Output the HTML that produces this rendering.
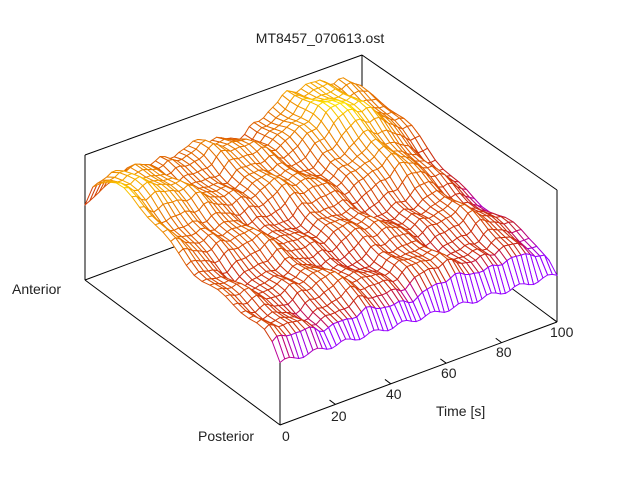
<!DOCTYPE html>
<html><head><meta charset="utf-8"><style>
html,body{margin:0;padding:0;background:#fff;}
svg{display:block;font-family:"Liberation Sans",sans-serif;}
</style></head><body>
<svg id="s" width="640" height="480" viewBox="0 0 640 480" xmlns="http://www.w3.org/2000/svg">
<rect width="640" height="480" fill="#fff"/>
<g stroke="#000" stroke-width="1" fill="none">
<line x1="85" y1="155" x2="362" y2="55"/>
<line x1="362" y1="55" x2="557" y2="190"/>
<line x1="85" y1="155" x2="85" y2="280"/>
<line x1="362" y1="55" x2="362" y2="177"/>
<line x1="557" y1="190" x2="557" y2="322"/>
<line x1="85" y1="280" x2="362" y2="177"/>
<line x1="362" y1="177" x2="557" y2="322"/>
<line x1="85" y1="280" x2="280" y2="425"/>
<line x1="280" y1="425" x2="557" y2="322"/>
<line x1="280" y1="425" x2="280" y2="300"/>
</g>
<g id="ticks" stroke="#000" stroke-width="1"></g>
<g id="mesh" stroke-width="1" stroke-linejoin="round"></g>
<g font-size="14" fill="#222">
<text x="320" y="43" text-anchor="middle">MT8457_070613.ost</text>
<text x="12" y="294">Anterior</text>
<text x="198" y="441">Posterior</text>
<text x="282" y="441">0</text>
<text x="331" y="421">20</text>
<text x="386" y="399">40</text>
<text x="441" y="378">60</text>
<text x="496" y="357">80</text>
<text x="550" y="337">100</text>
<text x="436" y="416">Time [s]</text>
</g>
</svg>
<script>
(function(){
var NS="http://www.w3.org/2000/svg";
function P(t,p,z){return [280+277*t-195*p, 425-103*t-145*p-125*z];}
var tk=document.getElementById('ticks');
for(var i=1;i<=5;i++){var t=i/5;var a=P(t,0,0),b=P(t,0.03,0);
 var l=document.createElementNS(NS,'line');l.setAttribute('x1',a[0]);l.setAttribute('y1',a[1]);l.setAttribute('x2',b[0]);l.setAttribute('y2',b[1]);tk.appendChild(l);}
var NT=60,NP=26;
function Z(t,p){
 var A=0.13+0.2*Math.exp(-Math.pow(t/0.15,2))+0.2*Math.exp(-Math.pow((t-0.82)/0.15,2));
 var ridge=A*Math.exp(-Math.pow((p-0.85)/0.32,2));
 var zi=0.64+ridge+0.035*Math.sin(t*22+p*5)+0.025*Math.sin(p*25+t*9)+0.02*Math.sin(t*57+p*11)+0.012*Math.sin(t*97);
 if(t>0.85) zi-=(t-0.85)*0.6;
 var base=0.5-0.12*t+0.02*Math.sin(t*60);
 var front=1-Math.exp(-p/0.035);
 var z=base+(zi-base)*front;
 if(t<0.25){var back=1-Math.exp(-(1-p)/0.03);var bb=0.6;z=bb+(z-bb)*(back+(1-back)*(t/0.25));}
 if(t>0.97){var r=1-Math.exp(-(1-t)/0.01);z=base+(z-base)*(0.6+0.4*r);}
 return z;}
function col(z){
 var v=Math.min(1,Math.max(0,(z-0.5)/0.5));
 var stops=[[0,[150,0,255]],[0.08,[190,0,140]],[0.17,[200,40,20]],[0.5,[225,100,0]],[0.8,[245,165,0]],[1,[255,235,0]]];
 for(var i=1;i<stops.length;i++){if(v<=stops[i][0]){var a=stops[i-1],b=stops[i],f=(v-a[0])/(b[0]-a[0]);
  return 'rgb('+[0,1,2].map(function(k){return Math.round(a[1][k]+(b[1][k]-a[1][k])*f)}).join(',')+')';}}
 return 'rgb(255,235,0)';}
var quads=[];
for(var i=0;i<NT-1;i++)for(var j=0;j<NP-1;j++){quads.push([i,j,(i/(NT-1)+j/(NP-1)*1.1)]);}
quads.sort(function(a,b){return b[2]-a[2];});
var g=document.getElementById('mesh');var html='';
quads.forEach(function(q){
 var i=q[0],j=q[1];
 var pts=[[i,j],[i+1,j],[i+1,j+1],[i,j+1]].map(function(c){var t=c[0]/(NT-1),p=c[1]/(NP-1);var z=Z(t,p);return [P(t,p,z),z];});
 var zm=Math.min(pts[0][1],pts[1][1],pts[2][1],pts[3][1])*0.5+(pts[0][1]+pts[1][1]+pts[2][1]+pts[3][1])/8;
 var d='M'+pts.map(function(x){return x[0][0].toFixed(1)+','+x[0][1].toFixed(1)}).join('L')+'Z';
 html+='<path d="'+d+'" fill="#fff" stroke="'+col(zm)+'"/>';
});
g.innerHTML=html;
})();
</script>
</body></html>
